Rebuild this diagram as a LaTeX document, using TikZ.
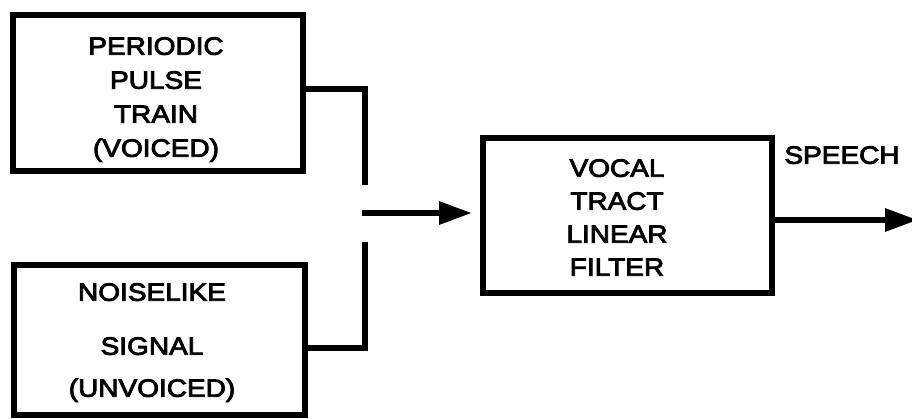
\documentclass[tikz,border=0pt]{standalone}
\usepackage{fontspec}
\newfontfamily\blockfont[FakeStretch=1.12,FakeBold=3.5]{Liberation Sans}
\usetikzlibrary{arrows.meta}

\tikzset{
  block/.style={draw, line width=6pt, rectangle, inner sep=0pt, fill=none},
  blocktext/.style={align=center, inner sep=0pt, text depth=0pt,
    font=\blockfont\fontsize{25}{34}\selectfont},
  wire/.style={line width=6pt, line join=miter, line cap=butt},
  flow/.style={wire, -{Triangle[length=33pt,width=22pt]}}
}

\begin{document}
\begin{tikzpicture}[x=1pt,y=-1pt]
  \useasboundingbox (0,0) rectangle (912,419);

  % source boxes
  \node[block, minimum width=290pt, minimum height=155.5pt] (voiced) at (158,93.25) {};
  \node[block, minimum width=291pt, minimum height=149.5pt] (unvoiced) at (159.5,339.75) {};
  % filter box
  \node[block, minimum width=289pt, minimum height=155pt] (filter) at (627.5,215.5) {};

  % box captions
  \node[blocktext] (voicedtext) at (156,97) {PERIODIC\\PULSE\\TRAIN\\(VOICED)};
  \node[blocktext] (unvoicedtext) at (152,340) {NOISELIKE\\[20pt]SIGNAL\\[8pt](UNVOICED)};
  \node[blocktext] (filtertext) at (617,217.5) {VOCAL\\[-1pt]TRACT\\[-1pt]LINEAR\\[-1pt]FILTER};
  \node[blocktext] (speech) at (842,155) {SPEECH};

  % switch contacts and arrow ends
  \coordinate (upEnd) at (365,185);
  \coordinate (loEnd) at (365,242);
  \coordinate (mixIn) at (362,213);
  \coordinate (speechEnd) at (918,220);

  % connectors
  \draw[wire] ([yshift=4.25pt]voiced.east) -| (upEnd);
  \draw[wire] ([yshift=-8.25pt]unvoiced.east) -| (loEnd);
  \draw[flow, shorten >=8pt] (mixIn) -- (filter.west |- mixIn);
  \draw[flow] (filter.east |- speechEnd) -- (speechEnd);
\end{tikzpicture}
\end{document}
